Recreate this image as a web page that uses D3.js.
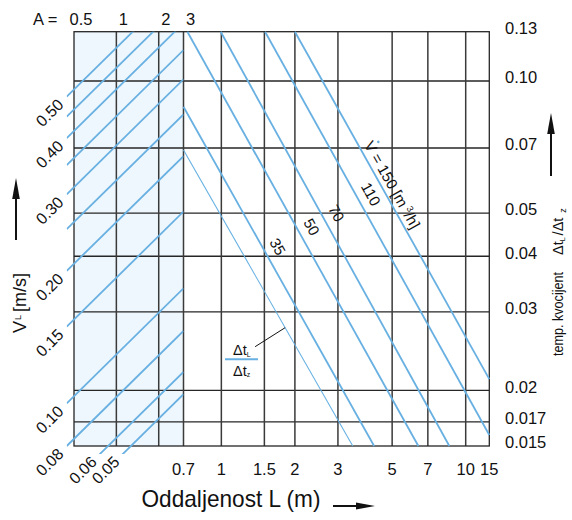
<!DOCTYPE html>
<html><head><meta charset="utf-8">
<script src="https://cdn.jsdelivr.net/npm/d3@7"></script>
<style>
body{margin:0;background:#fff}
svg{display:block}
text{font-family:"Liberation Sans",Arial,Helvetica,sans-serif;fill:#111}
</style>
</head><body>
<svg id="c" width="572" height="520"></svg>
<script>
// ---------------- DATA ----------------
// Top scale (left panel): A
const aTicks = [0.5, 1, 2, 3];
const aTickLabels = ["0.5", "1", "2", "3"];
// Bottom scale (right panel): distance L (m)
const lTicks = [0.7, 1, 1.5, 2, 3, 5, 7, 10, 15];
const lTickLabels = ["0.7", "1", "1.5", "2", "3", "5", "7", "10", "15"];
// Right scale: temperature quotient Δt_L/Δt_z
const rTicks = [0.13, 0.10, 0.07, 0.05, 0.04, 0.03, 0.02, 0.017, 0.015];
const rTickLabels = ["0.13", "0.10", "0.07", "0.05", "0.04", "0.03", "0.02", "0.017", "0.015"];

// Left panel: air velocity lines V_L [m/s]
const vlValues   = [0.50, 0.45, 0.40, 0.35, 0.30, 0.25, 0.20, 0.15, 0.10, 0.08, 0.06, 0.05];
const vlLabels   = ["0.50", "", "0.40", "", "0.30", "", "0.20", "0.15", "0.10", "0.08", "0.06", "0.05"];
const vlA0 = 0.444;   // A at line start
const vlA1 = 3;       // A at line end
const vlRatioStart = [0.0920, 0.0827, 0.0738, 0.0641, 0.0551, 0.0460, 0.0371, 0.0278, 0.0187, 0.0150, 0.01216, 0.01082];
const vlRatioEnd   = [0.1696, 0.1524, 0.1361, 0.1179, 0.1009, 0.0837, 0.0671, 0.0504, 0.0339, 0.0272, 0.0220, 0.0196];

// Right panel: air flow lines V̇ [m³/h] (first = thin example line)
const flowNames  = ["example", "35", "50", "70", "110", "150"];
const flowL0     = [0.70, 0.70, 0.726, 0.994, 1.51, 2.00];
const flowR0     = [0.0693, 0.0872, 0.13, 0.13, 0.13, 0.13];
const flowL1     = [3.45, 4.22, 6.40, 8.57, 15, 15];
const flowR1     = [0.015, 0.015, 0.015, 0.015, 0.01588, 0.0212];

// ---------------- LAYOUT ----------------
const svg = d3.select("#c");
const F = {left: 74, right: 489.3, top: 31.7, bottom: 446, split: 183.5};
const BLUE = "#68b0e2";
const GRID = "#262626";

const xA = d3.scaleLog().domain([0.5, 3]).range([F.left, F.split]);
const xL = d3.scaleLog().domain([0.7, 10, 15]).range([F.split, 465.7, F.right]);
const y  = d3.scaleLog().domain([0.015, 0.07, 0.13]).range([F.bottom, 148, F.top]);

// left panel tint
svg.append("rect").attr("x", F.left).attr("y", F.top)
  .attr("width", xA(3) - F.left).attr("height", F.bottom - F.top)
  .attr("fill", "#eef7fd");

// grid
const grid = svg.append("g").attr("stroke", GRID).attr("stroke-width", 1.3).attr("fill", "none");
rTicks.slice(1, -1).forEach(v => {
  grid.append("line").attr("x1", F.left).attr("x2", F.right).attr("y1", y(v)).attr("y2", y(v));
});
aTicks.slice(1).forEach(v => {
  grid.append("line").attr("x1", xA(v)).attr("x2", xA(v)).attr("y1", F.top).attr("y2", F.bottom).attr("stroke", "#3a3a3a").attr("stroke-width", 1.5);
});
lTicks.slice(1, -1).forEach(v => {
  grid.append("line").attr("x1", xL(v)).attr("x2", xL(v)).attr("y1", F.top).attr("y2", F.bottom).attr("stroke", "#3a3a3a").attr("stroke-width", 1.5);
});
grid.append("rect").attr("x", F.left).attr("y", F.top).attr("width", F.right - F.left).attr("height", F.bottom - F.top);

// left panel lines (clipped)
const clipL = {x0: xA(vlA0), x1: xA(3), y0: F.top, y1: F.bottom + 8};
svg.append("clipPath").attr("id", "clipLeft").append("rect")
  .attr("x", clipL.x0).attr("y", clipL.y0).attr("width", clipL.x1 - clipL.x0).attr("height", clipL.y1 - clipL.y0);
const lineGen = d3.line();
const gLeft = svg.append("g").attr("clip-path", "url(#clipLeft)");
vlValues.forEach((v, i) => {
  const p0 = [xA(vlA0), y(vlRatioStart[i])], p1 = [xA(vlA1), y(vlRatioEnd[i])];
  gLeft.append("path").attr("d", lineGen([p0, p1])).attr("stroke", BLUE).attr("stroke-width", 1.8).attr("fill", "none");
  if (vlLabels[i]) {
    let sx = p0[0], sy = p0[1];
    if (sy > clipL.y1) { const t = (clipL.y1 - p0[1]) / (p1[1] - p0[1]); sx = p0[0] + t * (p1[0] - p0[0]); sy = clipL.y1; }
    svg.append("text").attr("transform", `translate(${sx},${sy}) rotate(-45)`)
      .attr("x", -8).attr("dy", "0.3em").attr("text-anchor", "end").attr("font-size", 16)
      .text(vlLabels[i]);
  }
});

// right panel lines
const flowLabelAt = [null, 0.0406, 0.045, 0.0483, 0.0533, 0.0703];
flowNames.forEach((n, i) => {
  const p0 = [xL(flowL0[i]), y(flowR0[i])], p1 = [xL(flowL1[i]), y(flowR1[i])];
  svg.append("path").attr("d", lineGen([p0, p1])).attr("stroke", BLUE)
    .attr("stroke-width", i === 0 ? 1.1 : 1.8).attr("fill", "none");
  if (flowLabelAt[i] == null) return;
  const ly = y(flowLabelAt[i]);
  const t = (ly - p0[1]) / (p1[1] - p0[1]);
  const lx = p0[0] + t * (p1[0] - p0[0]);
  const ang = Math.atan2(p1[1] - p0[1], p1[0] - p0[0]) * 180 / Math.PI;
  const g = svg.append("g").attr("transform", `translate(${lx},${ly}) rotate(${ang})`);
  if (n === "150") {
    const tx = g.append("text").attr("x", 0).attr("y", -4.9).attr("font-size", 15).attr("text-anchor", "start");
    tx.append("tspan").text("V = 150 [m");
    tx.append("tspan").attr("font-size", 9).attr("dx", 3).attr("dy", -6).text("3");
    tx.append("tspan").attr("font-size", 15).attr("dy", 6).text("/h]");
    g.append("circle").attr("cx", 4.5).attr("cy", -19).attr("r", 1.3).attr("fill", BLUE);
  } else {
    g.append("text").attr("x", 0).attr("y", -8.2).attr("font-size", 15).attr("text-anchor", "middle").text(n);
  }
});

// callout for thin line
const calloutR = 0.02765;
{
  const p0 = [xL(flowL0[0]), y(flowR0[0])], p1 = [xL(flowL1[0]), y(flowR1[0])];
  const cy = y(calloutR), t = (cy - p0[1]) / (p1[1] - p0[1]);
  const cx = p0[0] + t * (p1[0] - p0[0]);
  svg.append("line").attr("x1", cx - 30).attr("y1", cy + 19).attr("x2", cx).attr("y2", cy)
    .attr("stroke", "#111").attr("stroke-width", 1);
  const bx = 225, by = 359.3;
  svg.append("line").attr("x1", bx).attr("x2", bx + 33).attr("y1", by).attr("y2", by).attr("stroke", BLUE).attr("stroke-width", 2);
  const t1 = svg.append("text").attr("x", 233).attr("y", 355).attr("font-size", 14.5);
  t1.append("tspan").text("Δt");
  t1.append("tspan").attr("font-size", 7).attr("dy", 1.5).text("L");
  const t2 = svg.append("text").attr("x", 233).attr("y", 375.5).attr("font-size", 14.5);
  t2.append("tspan").text("Δt");
  t2.append("tspan").attr("font-size", 7).attr("dy", 1).text("z");
}

// tick labels
svg.append("text").attr("x", 33).attr("y", 25).attr("font-size", 16.5).text("A =");
aTicks.forEach((v, i) => {
  svg.append("text").attr("x", xA(v) + 7).attr("y", 25).attr("text-anchor", "middle").attr("font-size", 16.5).text(aTickLabels[i]);
});
lTicks.forEach((v, i) => {
  svg.append("text").attr("x", xL(v)).attr("y", 475).attr("text-anchor", "middle").attr("font-size", 16.5).text(lTickLabels[i]);
});
rTicks.forEach((v, i) => {
  svg.append("text").attr("x", 505).attr("y", y(v) + 2.3).attr("font-size", 16.5).text(rTickLabels[i]);
});

// axis titles
svg.append("text").attr("x", 141.5).attr("y", 506.5).attr("font-size", 24)
  .attr("textLength", 179).attr("lengthAdjust", "spacingAndGlyphs").text("Oddaljenost L (m)");
{
  const t = svg.append("text").attr("transform", "translate(25.5,333) rotate(-90)").attr("font-size", 18);
  t.append("tspan").text("V");
  t.append("tspan").attr("font-size", 9).attr("dx", 1).attr("dy", -5).text("L");
  t.append("tspan").attr("font-size", 18).attr("dy", 5).attr("dx", 3).text("[m/s]");
}
{
  const t = svg.append("text").attr("transform", "translate(563,356) rotate(-90)").attr("font-size", 14.5);
  t.append("tspan").attr("textLength", 84).attr("lengthAdjust", "spacingAndGlyphs").text("temp. kvocijent");
  t.append("tspan").attr("dx", 17).text("Δt");
  t.append("tspan").attr("font-size", 7).attr("dy", 2).text("L");
  t.append("tspan").attr("dy", -2).attr("dx", 2).text("/Δt");
  t.append("tspan").attr("font-size", 9).attr("dy", 3).attr("dx", 5).text("z");
}

// arrows
function arrow(x1, y1, x2, y2, len, half) {
  const dx = x2 - x1, dy = y2 - y1, d = Math.hypot(dx, dy), ux = dx / d, uy = dy / d;
  const bx = x2 - ux * len, by = y2 - uy * len;
  svg.append("line").attr("x1", x1).attr("y1", y1).attr("x2", bx + ux * 2).attr("y2", by + uy * 2)
    .attr("stroke", "#111").attr("stroke-width", 2);
  svg.append("path").attr("d", `M${x2},${y2}L${bx - uy * half},${by + ux * half}L${bx + uy * half},${by - ux * half}Z`).attr("fill", "#111");
}
arrow(16, 240, 16, 178, 21, 3.8);
arrow(551, 176, 551, 113, 21, 3.8);
arrow(333, 506, 375, 506, 19, 3.4);
</script>
</body></html>
